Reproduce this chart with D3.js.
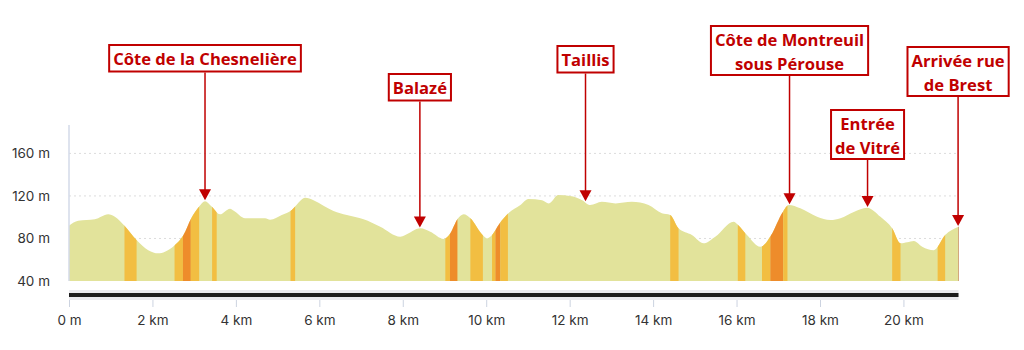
<!DOCTYPE html>
<html>
<head>
<meta charset="utf-8">
<title>Profil altimétrique</title>
<script src="https://cdn.jsdelivr.net/npm/d3@7"></script>
<style>
body { margin: 0; background: #fff; }
svg { display: block; }
.tick text { font-family: Inter, "Noto Sans", sans-serif; font-size: 13.5px; fill: #333; }
.label text { font-family: "Open Sans", sans-serif; font-weight: 700; font-size: 16.6px; fill: #c00000; }
</style>
</head>
<body>
<script>
// elevation profile
var distKm = [0, 0.22, 0.62, 0.94, 1.1, 1.33, 1.62, 1.9, 2.14, 2.3, 2.54, 2.74, 2.93, 3.12, 3.26, 3.42, 3.62, 3.86, 3.95, 4.22,
    4.7, 4.82, 5.1, 5.34, 5.42, 5.66, 5.86, 6.1, 6.34, 6.66, 7.06, 7.46, 7.94, 8.05, 8.42, 8.66, 8.98, 9.14, 9.31, 9.46,
    9.62, 9.92, 10.02, 10.14, 10.32, 10.53, 10.82, 11.01, 11.34, 11.5, 11.73, 12.01, 12.3, 12.49, 12.77, 13.1, 13.49, 13.89, 14.21, 14.41,
    14.61, 14.93, 15.21, 15.49, 15.93, 16.03, 16.25, 16.57, 16.63, 16.83, 17.11, 17.25, 17.53, 17.93, 18.25, 18.49, 18.81, 19.13, 19.45, 19.73,
    19.93, 20.09, 20.25, 20.45, 20.73, 21.0, 21.32];
var elevM = [92, 96.7, 98, 102.7, 100.4, 92, 78.5, 69, 66, 67.5, 73.8, 83, 99, 110, 115, 110, 102.7, 108, 106, 99,
    99, 97.6, 102, 106.7, 110, 118.3, 116, 110.8, 105.8, 102, 98, 91, 81.6, 83, 89.5, 86.3, 79.5, 85, 98, 102.7,
    99, 83, 80, 83.2, 94, 103.6, 111.4, 117, 116, 113, 120.8, 120, 116, 111.4, 114.5, 113, 114.5, 111.4, 103.6, 102,
    89.5, 83.2, 75.4, 81.6, 95.7, 93, 83.2, 72.2, 73, 83.2, 105, 111.4, 108.3, 100.4, 97.3, 99, 105, 109, 100.4, 89.5,
    75.4, 76.4, 77.6, 72.2, 69, 83.2, 91];

// steep sections (start km, end km, grade class)
var climbFrom  = [1.33, 2.53, 2.73, 2.92, 3.43, 5.31, 9.02, 9.13, 9.62, 10.14, 10.22, 10.34, 14.41, 16.03, 16.61, 16.81, 17.12, 19.73, 20.82];
var climbTo    = [1.62, 2.73, 2.92, 3.12, 3.54, 5.42, 9.13, 9.31, 9.92, 10.22, 10.34, 10.52, 14.61, 16.21, 16.81, 17.12, 17.22, 19.93, 21.0];
var climbLevel = ["mid", "mid", "high", "mid", "mid", "mid", "mid", "high", "mid", "mid", "high", "mid", "mid", "mid", "mid", "high", "mid", "mid", "mid"];

var yTicks = [40, 80, 120, 160];
var xTicks = [0, 2, 4, 6, 8, 10, 12, 14, 16, 18, 20];

var placeNames = [["Côte de la Chesnelière"], ["Balazé"], ["Taillis"], ["Côte de Montreuil", "sous Pérouse"],
    ["Entrée", "de Vitré"], ["Arrivée rue", "de Brest"]];
var placeKm = [3.26, 8.41, 12.38, 17.27, 19.14, 21.31];
var labelTop = [45, 74, 46, 26, 110, 47];

var width = 1024, height = 350;
var x = d3.scaleLinear().domain([0, 21.32]).range([69, 958.5]);
var y = d3.scaleLinear().domain([40, 160]).range([281, 153.4]);

var profile = distKm.map(function(d, i) { return { km: d, m: elevM[i] }; });
var elevAt = function(k) {
    var i = d3.bisectLeft(distKm, k);
    if (i <= 0) return elevM[0];
    if (i >= distKm.length) return elevM[elevM.length - 1];
    var t = (k - distKm[i - 1]) / (distKm[i] - distKm[i - 1]);
    return elevM[i - 1] + t * (elevM[i] - elevM[i - 1]);
};

var svg = d3.select("body").append("svg")
    .attr("width", width)
    .attr("height", height);

// dotted grid
svg.append("g").selectAll("line")
    .data(yTicks.slice(1))
    .enter().append("line")
    .attr("x1", x(0)).attr("x2", x(21.32))
    .attr("y1", function(d) { return y(d); }).attr("y2", function(d) { return y(d); })
    .attr("stroke", "#dcdcdc")
    .attr("stroke-dasharray", "2,3");

var area = d3.area()
    .x(function(d) { return x(d.km); })
    .y0(y(40))
    .y1(function(d) { return y(d.m); })
    .curve(d3.curveMonotoneX);

svg.append("clipPath").attr("id", "clip")
    .append("path").attr("d", area(profile));

svg.append("path")
    .attr("d", area(profile))
    .attr("fill", "#e2e39b");

svg.append("g").attr("clip-path", "url(#clip)")
    .selectAll("rect")
    .data(climbFrom)
    .enter().append("rect")
    .attr("x", function(d) { return x(d); })
    .attr("width", function(d, i) { return x(climbTo[i]) - x(d); })
    .attr("y", 100)
    .attr("height", 190)
    .attr("fill", function(d, i) { return climbLevel[i] == "high" ? "#ee8c2b" : "#f2be42"; });

// end edge
svg.append("line")
    .attr("x1", x(21.32)).attr("x2", x(21.32))
    .attr("y1", y(elevAt(21.32))).attr("y2", y(40))
    .attr("stroke", "#d2a77e").attr("stroke-width", 1);

// y axis
var yAxis = svg.append("g")
    .attr("transform", "translate(" + x(0) + ",0)")
    .call(d3.axisLeft(y).tickValues(yTicks).tickSize(0).tickPadding(19)
        .tickFormat(function(d) { return d + " m"; }));
yAxis.select(".domain").remove();
yAxis.selectAll(".tick text").attr("text-anchor", "end");
svg.append("line")
    .attr("x1", x(0)).attr("x2", x(0))
    .attr("y1", 125).attr("y2", y(40))
    .attr("stroke", "#d3dae8").attr("stroke-width", 1.5);

// track bar
svg.append("rect")
    .attr("x", x(0)).attr("width", x(21.32) - x(0))
    .attr("y", 290).attr("height", 10)
    .attr("fill", "#ebebef");
svg.append("rect")
    .attr("x", x(0)).attr("width", x(21.32) - x(0))
    .attr("y", 293).attr("height", 4)
    .attr("fill", "#1e1e1e");

// x axis
var xAxis = svg.append("g")
    .attr("transform", "translate(0,300)")
    .call(d3.axisBottom(x).tickValues(xTicks).tickSize(7).tickPadding(8)
        .tickFormat(function(d) { return d === 0 ? "0 m" : d + " km"; }));
xAxis.select(".domain").remove();
xAxis.selectAll(".tick line").attr("stroke", "#ccd3e0");

// place labels with arrows
var red = "#c00000";
placeNames.forEach(function(lines, i) {
    var cx = x(placeKm[i]);
    var tipY = y(elevAt(placeKm[i])) - 1;
    var g = svg.append("g").attr("class", "label");
    var lineH = 24.5;
    var texts = g.selectAll("text").data(lines).enter().append("text")
        .attr("x", cx)
        .attr("y", function(d, j) { return labelTop[i] + 19.5 + j * lineH; })
        .attr("text-anchor", "middle")
        .text(function(d) { return d; });
    var w = 0;
    texts.each(function() { w = Math.max(w, this.getComputedTextLength()); });
    var boxH = lines.length == 1 ? 26.5 : 49;
    g.insert("rect", "text")
        .attr("x", cx - w / 2 - 4).attr("y", labelTop[i])
        .attr("width", w + 8).attr("height", boxH)
        .attr("fill", "#fff")
        .attr("stroke", red).attr("stroke-width", 2);
    g.append("line")
        .attr("x1", cx).attr("x2", cx)
        .attr("y1", labelTop[i] + boxH + 1).attr("y2", tipY - 8)
        .attr("stroke", red).attr("stroke-width", 1.5);
    g.append("path")
        .attr("d", "M" + (cx - 6) + "," + (tipY - 11) + "L" + (cx + 6) + "," + (tipY - 11) + "L" + cx + "," + tipY + "Z")
        .attr("fill", red);
});
</script>
</body>
</html>
